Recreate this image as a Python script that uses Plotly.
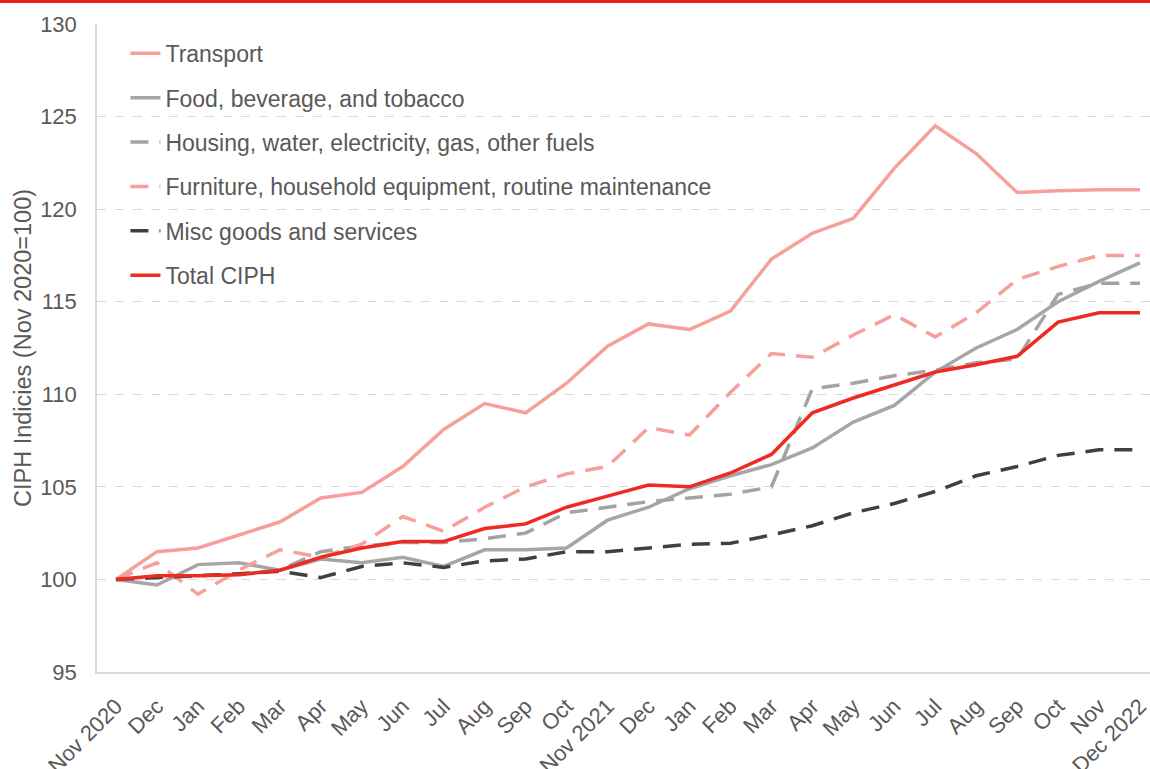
import plotly.graph_objects as go

months = ["Nov 2020", "Dec", "Jan", "Feb", "Mar", "Apr", "May", "Jun", "Jul", "Aug", "Sep", "Oct",
          "Nov 2021", "Dec", "Jan", "Feb", "Mar", "Apr", "May", "Jun", "Jul", "Aug", "Sep", "Oct",
          "Nov", "Dec 2022"]

transport = [100.0, 101.5, 101.7, 102.4, 103.1, 104.4, 104.7, 106.1, 108.1, 109.5, 109.0, 110.6,
             112.6, 113.8, 113.5, 114.5, 117.3, 118.7, 119.5, 122.2, 124.5, 123.0, 120.9, 121.0,
             121.05, 121.05]
food = [100.0, 99.7, 100.8, 100.9, 100.5, 101.1, 100.9, 101.2, 100.7, 101.6, 101.6, 101.7,
        103.2, 103.9, 104.9, 105.6, 106.2, 107.1, 108.5, 109.4, 111.2, 112.5, 113.5, 115.0,
        116.1, 117.1]
housing = [100.0, 100.1, 100.2, 100.3, 100.5, 101.5, 101.8, 102.0, 102.0, 102.2, 102.5, 103.6,
           103.9, 104.2, 104.4, 104.6, 105.0, 110.3, 110.6, 111.0, 111.3, 111.7, 111.9, 115.4,
           116.0, 116.0]
furniture = [100.0, 100.9, 99.2, 100.5, 101.6, 101.2, 101.9, 103.4, 102.6, 103.9, 105.0, 105.7,
             106.1, 108.2, 107.8, 110.1, 112.2, 112.0, 113.2, 114.3, 113.1, 114.4, 116.2, 116.9,
             117.5, 117.5]
misc = [100.0, 100.1, 100.2, 100.3, 100.45, 100.1, 100.7, 100.9, 100.65, 101.0, 101.1, 101.5,
        101.5, 101.7, 101.9, 101.95, 102.4, 102.9, 103.6, 104.1, 104.75, 105.6, 106.1, 106.7,
        107.0, 107.0]
total = [100.0, 100.2, 100.2, 100.25, 100.5, 101.2, 101.7, 102.05, 102.05, 102.75, 103.0, 103.9,
         104.5, 105.1, 105.0, 105.75, 106.75, 109.0, 109.8, 110.5, 111.2, 111.6, 112.05, 113.9,
         114.4, 114.4]

yticks = [95, 100, 105, 110, 115, 120, 125, 130]

x = list(range(len(months)))
DASH = "18px,11px"
LW = 3.5

series = [
    ("Transport", transport, "#F7A09B", "solid"),
    ("Food, beverage, and tobacco", food, "#A6A6A6", "solid"),
    ("Housing, water, electricity, gas, other fuels", housing, "#A3A3A3", DASH),
    ("Furniture, household equipment, routine maintenance", furniture, "#F7A09B", DASH),
    ("Misc goods and services", misc, "#404040", DASH),
    ("Total CIPH", total, "#EE2A22", "solid"),
]

fig = go.Figure()
for i, (name, vals, color, dash) in enumerate(series):
    fig.add_trace(go.Scatter(
        x=x, y=vals, name=name, mode="lines", legendgroup=f"g{i}",
        line=dict(color=color, width=LW, dash=dash),
    ))

font_family = "Liberation Sans, Arial, sans-serif"
txt = "#595959"

fig.update_layout(
    width=1150, height=769,
    margin=dict(l=97, r=0, t=24, b=97),
    paper_bgcolor="white", plot_bgcolor="white",
    font=dict(family=font_family, color=txt, size=22),
    showlegend=True,
    legend=dict(
        x=0.027, y=0.988, xanchor="left", yanchor="top",
        font=dict(size=23, color=txt, family=font_family),
        bgcolor="rgba(255,255,255,0)",
        traceorder="grouped", tracegroupgap=11.5,
    ),
    xaxis=dict(
        range=[-0.464, 25.244], tickmode="array", tickvals=x, ticktext=months,
        tickangle=-45, tickfont=dict(size=22, color=txt), ticklabeloverflow="allow",
        showgrid=False, zeroline=False, showline=True, linecolor="#D9D9D9", linewidth=1.5,
        ticks="outside", ticklen=11, tickcolor="rgba(0,0,0,0)", automargin=False,
    ),
    yaxis=dict(
        range=[95, 130], tickmode="array", tickvals=yticks,
        tickfont=dict(size=22, color=txt), automargin=False,
        showgrid=True, gridcolor="#D9D9D9", griddash="dash", gridwidth=1,
        zeroline=False, showline=True, linecolor="#D9D9D9", linewidth=1.5,
        ticks="outside", ticklen=14, tickcolor="rgba(0,0,0,0)",
        title=dict(text="CIPH Indicies (Nov 2020=100)", font=dict(size=23.5, color=txt), standoff=2),
    ),
)

fig.add_shape(type="rect", xref="paper", yref="paper",
              x0=-97/1053, x1=1, y0=(672-3)/648, y1=(672+1)/648,
              fillcolor="#E8221B", line=dict(width=0), layer="above")

fig.write_html("out.html", config={"displayModeBar": False},
               post_script="document.body.style.margin='0px';")
